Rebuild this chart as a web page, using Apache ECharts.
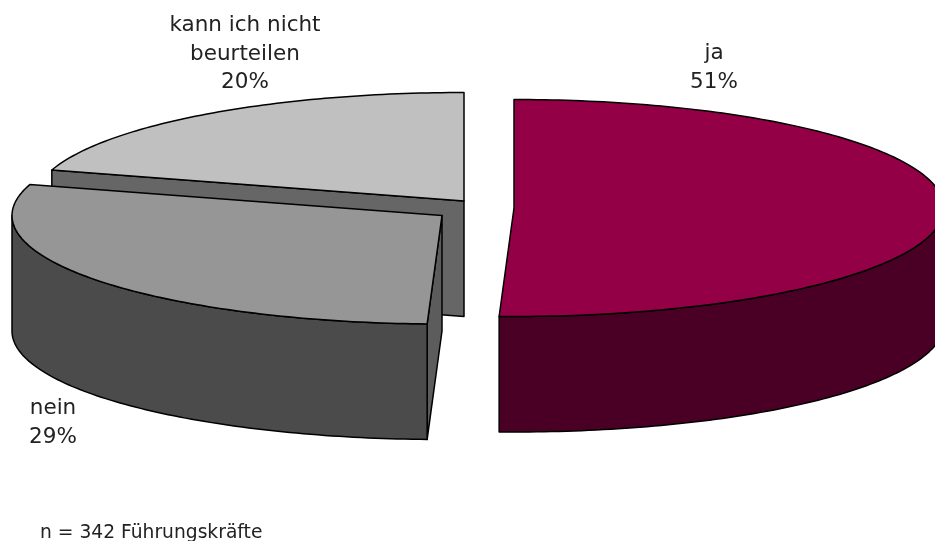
<!DOCTYPE html>
<html>
<head>
<meta charset="utf-8">
<style>html,body{margin:0;padding:0;background:#fff}#c{width:935px;height:541px}</style>
<script src="https://cdn.jsdelivr.net/npm/echarts@6/dist/echarts.min.js"></script>
</head>
<body>
<div id="c"></div>
<script>
// Data
const categories = ['ja', 'nein', 'kann ich nicht\nbeurteilen'];
const values = [50.55, 29.05, 20.4];
const footnote = 'n = 342 Führungskräfte';

// Styles and layout (one entry per slice, same order as the data)
const topColors = ['#930045', '#969696', '#c0c0c0'];
const sideColors = ['#4a0024', '#4b4b4b', '#606060'];
const innerColors = ['#4a0024', '#5c5c5c', '#666666'];
const apexX = [514, 442, 464];
const apexY = [208, 215.5, 201];
const labelX = [714, 53, 245];
const labelY = [68, 423, 54];
const paintOrder = [3, 2, 1];
const RX = 430, RY = 108.5, DEPTH = 115.5;
const FONT = '"DejaVu Sans"';
const total = values.reduce((a, b) => a + b, 0);

function arcPoints(cx, cy, a0, a1, dy) {
  const pts = [];
  const n = Math.max(2, Math.ceil(Math.abs(a1 - a0)));
  for (let k = 0; k <= n; k++) {
    const t = (a0 + (a1 - a0) * k / n) * Math.PI / 180;
    pts.push([cx + RX * Math.sin(t), cy - RY * Math.cos(t) + dy]);
  }
  return pts;
}

function renderItem(params, api) {
  const i = params.dataIndex;
  const before = values.slice(0, i).reduce((a, b) => a + b, 0);
  const a0 = before / total * 360;
  const a1 = a0 + api.value(0) / total * 360;
  const cx = apexX[i], cy = apexY[i], z = paintOrder[i];
  const lineStyle = { stroke: '#000', lineWidth: 1.5, lineJoin: 'round' };
  const children = [];
  // flat cut face, seen only when the slice's opening edge comes towards the viewer
  const edgeAngle = a0 > 90 && a0 < 360 ? a0 : null;
  if (edgeAngle !== null) {
    const e = arcPoints(cx, cy, edgeAngle, edgeAngle, 0)[0];
    children.push({
      type: 'polygon', z2: z,
      shape: { points: [[cx, cy], e, [e[0], e[1] + DEPTH], [cx, cy + DEPTH]] },
      style: Object.assign({ fill: innerColors[i] }, lineStyle)
    });
  }
  // curved outer wall: front half of the ellipse only
  const s0 = Math.max(a0, 90), s1 = Math.min(a1, 270);
  if (s1 > s0) {
    const top = arcPoints(cx, cy, s0, s1, 0);
    const bottom = arcPoints(cx, cy, s1, s0, DEPTH);
    children.push({
      type: 'polygon', z2: z,
      shape: { points: top.concat(bottom) },
      style: Object.assign({ fill: sideColors[i] }, lineStyle)
    });
  }
  // top surface
  children.push({
    type: 'polygon', z2: z + 0.1,
    shape: { points: [[cx, cy]].concat(arcPoints(cx, cy, a0, a1, 0)) },
    style: Object.assign({ fill: topColors[i] }, lineStyle)
  });
  // label
  children.push({
    type: 'text', z2: 10,
    style: {
      x: labelX[i], y: labelY[i],
      text: categories[i] + '\n' + Math.round(api.value(0)) + '%',
      font: '21.5px ' + FONT, fill: '#222',
      align: 'center', verticalAlign: 'middle', lineHeight: 28.5
    }
  });
  return { type: 'group', children };
}

const chart = echarts.init(document.getElementById('c'), null, { renderer: 'canvas' });
chart.setOption({
  animation: false,
  backgroundColor: '#fff',
  title: {
    text: footnote, left: 35, top: 519,
    textStyle: { fontFamily: FONT, fontSize: 18.7, fontWeight: 'normal', color: '#222' }
  },
  series: [{
    type: 'custom',
    coordinateSystem: 'none',
    silent: true,
    clip: false,
    renderItem,
    data: values.map((v, i) => ({ name: categories[i], value: [v] }))
  }]
});
</script>
</body>
</html>
